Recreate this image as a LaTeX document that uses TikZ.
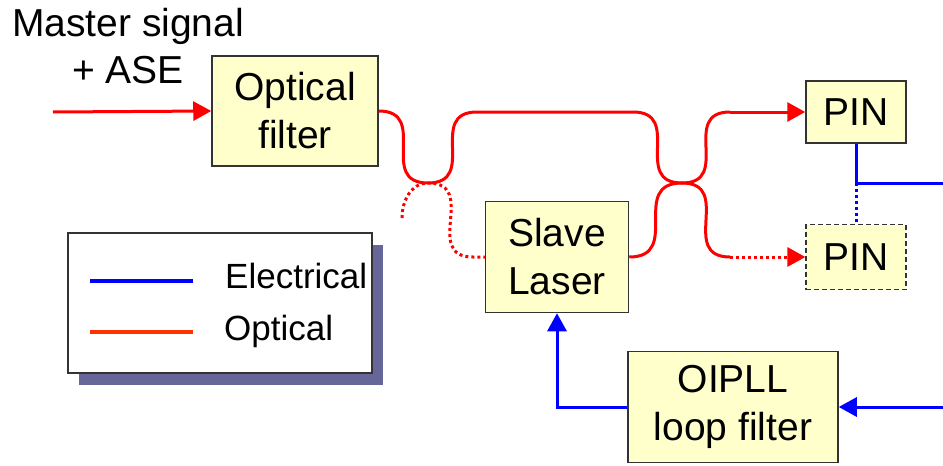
\documentclass[tikz,border=0pt]{standalone}
\usepackage{fontspec}
\setmainfont{Liberation Sans}
\usetikzlibrary{arrows.meta,shadows}
\definecolor{boxfill}{HTML}{FFFFCC}
\definecolor{boxline}{HTML}{333333}
\definecolor{optred}{HTML}{FF0000}
\definecolor{elecblue}{HTML}{0000FF}
\definecolor{legred}{HTML}{FF3300}
\definecolor{legshadow}{HTML}{666699}

\begin{document}
\begin{tikzpicture}[x=1pt, y=-1pt,
    block/.style={draw=boxline, line width=1.5pt, fill=boxfill, align=center,
        inner sep=0pt, font=\fontsize{39}{48}\selectfont},
    optic/.style={optred, line width=3pt},
    elec/.style={elecblue, line width=3pt},
    dots/.style={dash pattern=on 3pt off 3pt},
    sbend/.style={out=0, in=180, looseness=1.5},
    tip/.style={-{Triangle[length=18pt,width=19pt]}}]
    \useasboundingbox (0,0) rectangle (943,466);

    % Blocks
    \node[block, minimum width=166pt, minimum height=110pt] (filt) at (295,111) {Optical\\filter};
    \node[block, minimum width=143pt, minimum height=111pt] (slave) at (557,257) {Slave\\Laser};
    \node[block, minimum width=100pt, minimum height=62pt] (pina) at (856,112) {PIN};
    \node[block, line width=1.2pt, dash pattern=on 5pt off 3pt,
        minimum width=100pt, minimum height=65pt] (pinb) at (856,257) {PIN};
    \node[block, minimum width=210pt, minimum height=111pt] (loop) at (733,407) {OIPLL\\loop filter};

    % Input
    \node[anchor=north, align=center, inner sep=0pt, font=\fontsize{39}{47}\selectfont]
        (src) at (128,8) {Master signal\\+ ASE};
    \coordinate (in) at (53,112);
    \draw[optic, tip] (in) -- (filt.west);

    % Couplers
    \coordinate (xa) at (428,183);
    \coordinate (xb) at (682,183);
    \coordinate (ta) at (477,112);
    \coordinate (tb) at (633,112);
    \coordinate (tc) at (730,112);
    \coordinate (ba) at (473,257);
    \coordinate (bb) at (730,257);
    \coordinate (da) at (402,218);

    % Optical paths
    \draw[optic] (filt.east) to[sbend] (xa) to[sbend] (ta) -- (tb) to[sbend] (xb) to[sbend] (bb);
    \draw[optic, dots, tip] (bb) -- (pinb.west);
    \draw[optic] (slave.east) to[sbend] (xb) to[sbend] (tc);
    \draw[optic, tip] (tc) -- (pina.west);
    \draw[optic, dots] (da) to[out=90, in=180] (xa) to[sbend] (ba) -- (slave.west);

    % Electrical paths
    \coordinate (ja) at (856,183);
    \coordinate (outa) at (943,183);
    \coordinate (inb) at (943,407);
    \draw[elec] (pina.south) -- (ja) -- (outa);
    \draw[elec, dots] (ja) -- (pinb.north);
    \draw[elec, tip] (inb) -- (loop.east);
    \draw[elec, tip] (loop.west) -| (slave.south);

    % Legend
    \node[draw=boxline, line width=1.2pt, fill=white, minimum width=304pt, minimum height=140pt,
        drop shadow={shadow xshift=11pt, shadow yshift=-12pt, fill=legshadow, opacity=1}]
        (legend) at (220,303) {};
    \draw[elecblue, line width=4pt] (90,281) -- (193,281);
    \draw[legred, line width=4pt] (90,332) -- (193,332);
    \node[anchor=base west, inner sep=0pt, font=\fontsize{35}{42}\selectfont] (lgel) at (225,288) {Electrical};
    \node[anchor=base west, inner sep=0pt, font=\fontsize{35}{42}\selectfont] (lgop) at (224,340) {Optical};
\end{tikzpicture}
\end{document}
